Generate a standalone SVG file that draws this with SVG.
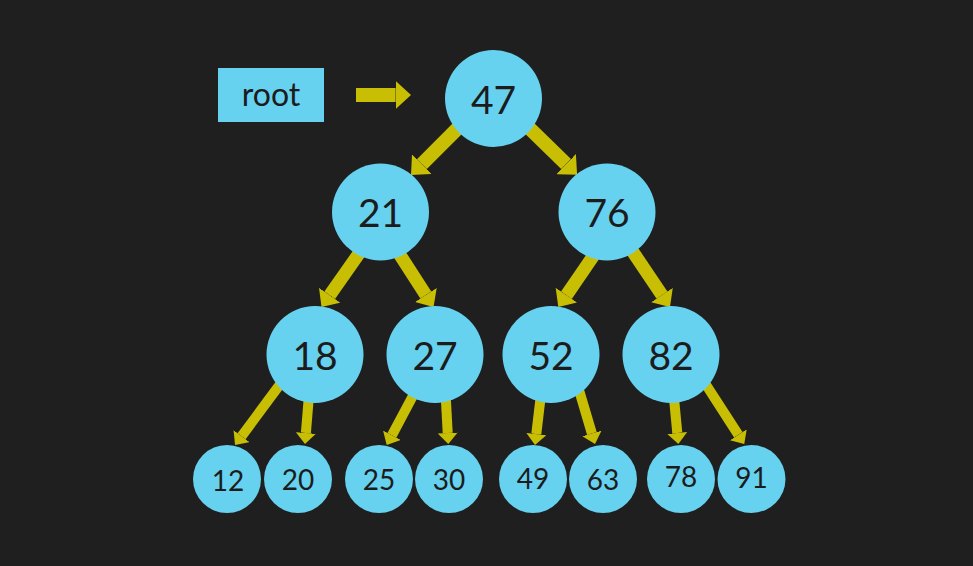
<svg xmlns="http://www.w3.org/2000/svg" width="973" height="566" viewBox="0 0 973 566">
<style>
.node circle, .node rect { fill: #67d2ef; }
.node text { font-family: Lato, "Open Sans", "Liberation Sans", sans-serif; fill: #1c1c1c; text-anchor: middle; }
.big { font-size: 39px; }
.small { font-size: 28px; }
.lbl { font-size: 32px; }
.c1 { stroke: #c8bf05; stroke-width: 14; fill: none; }
.c2 { stroke: #c8bf05; stroke-width: 13; fill: none; }
.c3 { stroke: #c8bf05; stroke-width: 10; fill: none; }
</style>
<defs>
<marker id="ah" viewBox="0 0 1.1 2" refX="0" refY="1" markerWidth="1.1" markerHeight="2" orient="auto">
<path d="M0,0 L1.1,1 L0,2 Z" fill="#c8bf05"/>
</marker>
</defs>
<rect width="973" height="566" fill="#1f1f1f"/>
<g id="connectors">
<line class="c1" x1="356" y1="95" x2="395.6" y2="95" marker-end="url(#ah)"/>
<line class="c1" x1="465" y1="121" x2="421.9" y2="164.1" marker-end="url(#ah)"/>
<line class="c1" x1="522" y1="121" x2="566.1" y2="164.1" marker-end="url(#ah)"/>
<line class="c2" x1="363.7" y1="246.8" x2="329.7" y2="295.3" marker-end="url(#ah)"/>
<line class="c2" x1="394.6" y1="246.6" x2="425.8" y2="295" marker-end="url(#ah)"/>
<line class="c2" x1="597.4" y1="250" x2="566.4" y2="295.2" marker-end="url(#ah)"/>
<line class="c2" x1="629.4" y1="246.7" x2="662" y2="295.1" marker-end="url(#ah)"/>
<line class="c3" x1="284" y1="379" x2="241.6" y2="436.2" marker-end="url(#ah)"/>
<line class="c3" x1="309" y1="395" x2="305.9" y2="433" marker-end="url(#ah)"/>
<line class="c3" x1="415.5" y1="391" x2="391.9" y2="435.3" marker-end="url(#ah)"/>
<line class="c3" x1="445.6" y1="394" x2="447.7" y2="433" marker-end="url(#ah)"/>
<line class="c3" x1="541" y1="394" x2="536.3" y2="434.1" marker-end="url(#ah)"/>
<line class="c3" x1="577.7" y1="385.6" x2="591.9" y2="433.5" marker-end="url(#ah)"/>
<line class="c3" x1="673.6" y1="394" x2="677.3" y2="433" marker-end="url(#ah)"/>
<line class="c3" x1="704" y1="381.6" x2="738.3" y2="434.8" marker-end="url(#ah)"/>
</g>
<g id="root" class="node"><rect x="218" y="68" width="106" height="54"/><text class="lbl" x="271" y="106">root</text></g>
<g id="n47" class="node"><circle cx="493.5" cy="98.5" r="48.5"/><text class="big" x="493.5" y="114">47</text></g>
<g id="n21" class="node"><circle cx="380.5" cy="212" r="48.5"/><text class="big" x="380.5" y="227">21</text></g>
<g id="n76" class="node"><circle cx="607" cy="212" r="48.5"/><text class="big" x="607" y="227">76</text></g>
<g id="n18" class="node"><circle cx="315" cy="354.5" r="48.5"/><text class="big" x="315" y="370">18</text></g>
<g id="n27" class="node"><circle cx="435" cy="354.5" r="48.5"/><text class="big" x="435" y="370">27</text></g>
<g id="n52" class="node"><circle cx="551" cy="354.5" r="48.5"/><text class="big" x="551" y="370">52</text></g>
<g id="n82" class="node"><circle cx="671" cy="354.5" r="48.5"/><text class="big" x="671" y="370">82</text></g>
<g id="n12" class="node"><circle cx="227" cy="479" r="34"/><text class="small" x="228" y="491">12</text></g>
<g id="n20" class="node"><circle cx="298" cy="479" r="34"/><text class="small" x="298" y="489.5">20</text></g>
<g id="n25" class="node"><circle cx="379" cy="479" r="34"/><text class="small" x="379" y="489.5">25</text></g>
<g id="n30" class="node"><circle cx="449" cy="479" r="34"/><text class="small" x="449" y="489.5">30</text></g>
<g id="n49" class="node"><circle cx="533" cy="479" r="34"/><text class="small" x="533" y="488.5">49</text></g>
<g id="n63" class="node"><circle cx="603" cy="479" r="34"/><text class="small" x="603" y="490">63</text></g>
<g id="n78" class="node"><circle cx="681" cy="479" r="34"/><text class="small" x="681" y="487">78</text></g>
<g id="n91" class="node"><circle cx="751.5" cy="479" r="34"/><text class="small" x="751.5" y="487.5">91</text></g>
</svg>
